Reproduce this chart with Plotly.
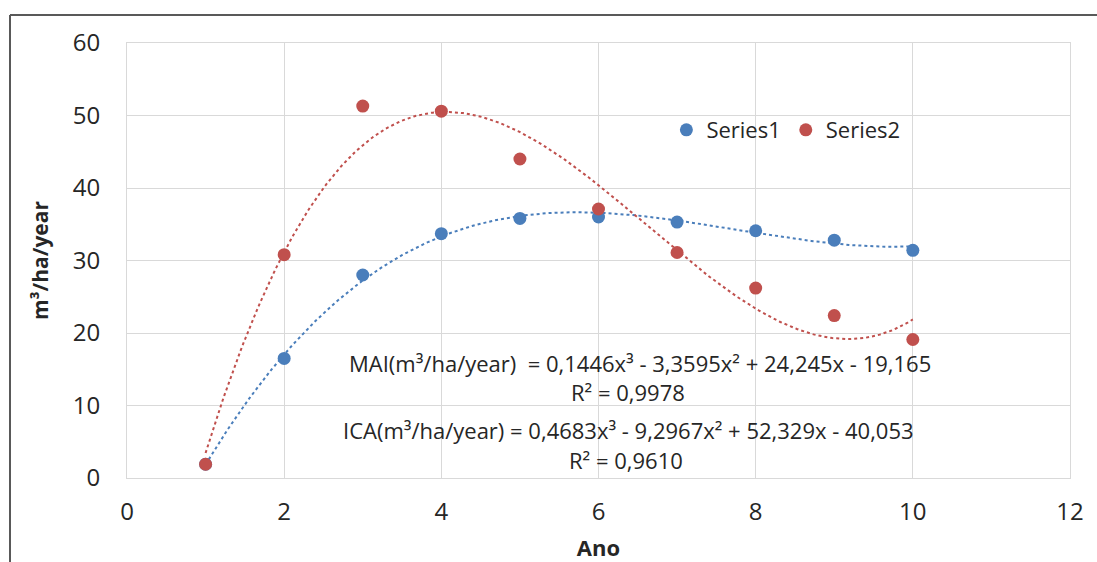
import numpy as np
import plotly.graph_objects as go

ano = [1, 2, 3, 4, 5, 6, 7, 8, 9, 10]
series1 = [1.9, 16.5, 28.0, 33.7, 35.8, 36.0, 35.3, 34.1, 32.8, 31.4]
series2 = [1.9, 30.8, 51.3, 50.6, 44.0, 37.1, 31.1, 26.2, 22.4, 19.1]
# trendline coefficients (as printed on the chart, highest power first)
mai_coef = [0.1446, -3.3595, 24.245, -19.165]
ica_coef = [0.4683, -9.2967, 52.329, -40.053]

blue = "#4a7ebb"
red = "#c0504d"
font_family = "Open Sans"
txt = "#262626"

xt = np.linspace(min(ano), max(ano), 300)

fig = go.Figure()
fig.add_trace(go.Scatter(x=xt, y=np.polyval(mai_coef, xt), mode="lines",
                         line=dict(color=blue, width=2, dash="dot"), showlegend=False, hoverinfo="skip"))
fig.add_trace(go.Scatter(x=xt, y=np.polyval(ica_coef, xt), mode="lines",
                         line=dict(color=red, width=2, dash="dot"), showlegend=False, hoverinfo="skip"))
fig.add_trace(go.Scatter(x=ano, y=series1, mode="markers", name="Series1",
                         marker=dict(color=blue, size=13)))
fig.add_trace(go.Scatter(x=ano, y=series2, mode="markers", name="Series2",
                         marker=dict(color=red, size=13)))

grid = "#d9d9d9"
fig.update_xaxes(range=[0, 12], dtick=2, tick0=0, showgrid=True, gridcolor=grid, gridwidth=1,
                 showline=True, linecolor=grid, mirror=True, zeroline=False, automargin=False,
                 ticks="", ticklabelstandoff=12, tickfont=dict(size=24, color=txt, family=font_family),
                 title=dict(text="<b>Ano</b>", font=dict(size=22, color=txt, family=font_family), standoff=16))
fig.update_yaxes(range=[0, 60], dtick=10, tick0=0, showgrid=True, gridcolor=grid, gridwidth=1,
                 showline=True, linecolor=grid, mirror=True, zeroline=False, automargin=False,
                 ticks="", ticklabelstandoff=21, tickfont=dict(size=24, color=txt, family=font_family),
                 title=dict(text="<b>m³/ha/year</b>", font=dict(size=21, color=txt, family=font_family), standoff=18))

ann_font = dict(size=22, color=txt, family=font_family)
texts = [
    ("MAI(m³/ha/year)  = 0,1446x³ - 3,3595x² + 24,245x - 19,165", 6.53, 15.85),
    ("R² = 0,9978", 6.38, 11.85),
    ("ICA(m³/ha/year) = 0,4683x³ - 9,2967x² + 52,329x - 40,053", 6.38, 6.6),
    ("R² = 0,9610", 6.35, 2.45),
]
for t, x, y in texts:
    fig.add_annotation(x=x, y=y, xref="x", yref="y", text=t, showarrow=False, font=ann_font)

# outer frame (top and left edges)
fx0, fy0 = (10 - 127) / 943, (478 - 15) / 435
fig.add_shape(type="line", xref="paper", yref="paper", x0=fx0, y0=fy0, x1=1.05, y1=fy0,
              line=dict(color="#595959", width=2))
fig.add_shape(type="line", xref="paper", yref="paper", x0=fx0, y0=fy0, x1=fx0, y1=-0.3,
              line=dict(color="#595959", width=2))

fig.update_layout(
    width=1097, height=562,
    margin=dict(l=127, r=27, t=43, b=84),
    paper_bgcolor="white", plot_bgcolor="white",
    font=dict(family=font_family, color=txt),
    legend=dict(orientation="h", x=0.572, y=0.80, xanchor="left", yanchor="middle",
                font=dict(size=22, color=txt, family=font_family),
                bgcolor="rgba(0,0,0,0)", itemwidth=30, tracegroupgap=0),
)

fig.write_html("out.html")
